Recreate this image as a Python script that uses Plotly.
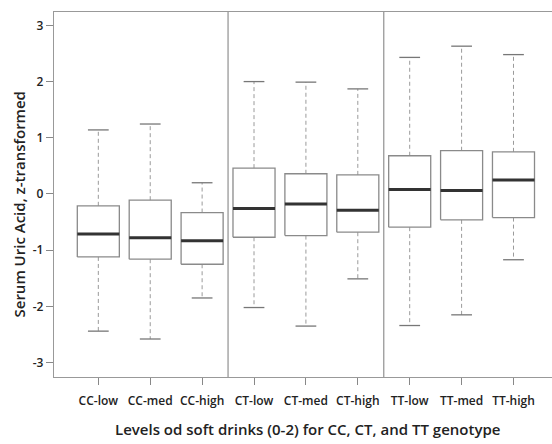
import plotly.graph_objects as go

categories = ["CC-low", "CC-med", "CC-high", "CT-low", "CT-med", "CT-high", "TT-low", "TT-med", "TT-high"]
lower_whisker = [-2.44, -2.58, -1.85, -2.02, -2.35, -1.51, -2.34, -2.15, -1.17]
q1 = [-1.12, -1.16, -1.25, -0.77, -0.74, -0.68, -0.59, -0.46, -0.42]
median = [-0.71, -0.78, -0.83, -0.26, -0.18, -0.29, 0.08, 0.06, 0.25]
q3 = [-0.21, -0.11, -0.33, 0.46, 0.36, 0.34, 0.68, 0.77, 0.75]
upper_whisker = [1.14, 1.245, 0.20, 2.00, 1.99, 1.87, 2.43, 2.63, 2.48]
y_ticks = [-3, -2, -1, 0, 1, 2, 3]
group_separators = [2.5, 5.5]
x_title = "Levels od soft drinks (0-2) for CC, CT, and TT genotype"
y_title = "Serum Uric Acid, z-transformed"

BOX_HALF = 0.405
CAP_HALF = 0.2
FONT = "Open Sans"
W, H = 552, 444
ML, MR, MT, MB = 54, 0, 12, 67

fig = go.Figure()

wx, wy, cx, cy, bx, by, mx, my = [], [], [], [], [], [], [], []
for i in range(len(categories)):
    wx += [i, i, None, i, i, None]
    wy += [q3[i], upper_whisker[i], None, q1[i], lower_whisker[i], None]
    cx += [i - CAP_HALF, i + CAP_HALF, None, i - CAP_HALF, i + CAP_HALF, None]
    cy += [upper_whisker[i], upper_whisker[i], None, lower_whisker[i], lower_whisker[i], None]
    bx += [i - BOX_HALF, i + BOX_HALF, i + BOX_HALF, i - BOX_HALF, i - BOX_HALF, None]
    by += [q1[i], q1[i], q3[i], q3[i], q1[i], None]
    mx += [i - BOX_HALF, i + BOX_HALF, None]
    my += [median[i], median[i], None]

fig.add_trace(go.Scatter(x=wx, y=wy, mode="lines", line=dict(color="#9a9a9a", width=1, dash="4px,3px"),
                         hoverinfo="skip", showlegend=False))
fig.add_trace(go.Scatter(x=cx, y=cy, mode="lines", line=dict(color="#777777", width=1.3),
                         hoverinfo="skip", showlegend=False))
fig.add_trace(go.Scatter(x=bx, y=by, mode="lines", line=dict(color="#8a8a8a", width=1.3),
                         hoverinfo="skip", showlegend=False))
fig.add_trace(go.Scatter(x=mx, y=my, mode="lines", line=dict(color="#333333", width=3),
                         hoverinfo="skip", showlegend=False))

for s in group_separators:
    fig.add_shape(type="line", xref="x", yref="paper", x0=s, x1=s, y0=0, y1=1,
                  line=dict(color="#999999", width=1.3))

pw = W - ML - MR
ph = H - MT - MB
fig.add_annotation(text=x_title, xref="paper", yref="paper",
                   x=(307.5 - ML) / pw, y=-(429 - (H - MB)) / ph,
                   xanchor="center", yanchor="middle", showarrow=False,
                   font=dict(family=FONT, size=15, weight=600, color="#222222"))
fig.add_annotation(text=y_title, xref="paper", yref="paper",
                   x=-(ML - 18) / pw, y=(H - MB - 204.5) / ph, textangle=-90,
                   xanchor="center", yanchor="middle", showarrow=False,
                   font=dict(family=FONT, size=15, weight=600, color="#222222"))

fig.update_layout(
    width=W, height=H,
    margin=dict(l=ML, r=MR, t=MT, b=MB, autoexpand=False),
    paper_bgcolor="white", plot_bgcolor="white",
    font=dict(family=FONT, color="#222222"),
)
fig.update_xaxes(
    range=[-0.854, 8.742], automargin=False,
    tickmode="array", tickvals=list(range(len(categories))), ticktext=categories,
    ticks="outside", ticklen=7, tickcolor="#888888", tickwidth=1,
    ticklabelstandoff=5,
    showline=True, linecolor="#999999", linewidth=1.3, mirror=True,
    showgrid=False, zeroline=False,
    tickfont=dict(family=FONT, size=12, weight=600, color="#222222"),
)
fig.update_yaxes(
    range=[-3.256, 3.238], automargin=False,
    tickmode="array", tickvals=y_ticks, ticktext=[str(v) for v in y_ticks],
    ticks="outside", ticklen=7, tickcolor="#888888", tickwidth=1,
    showline=True, linecolor="#999999", linewidth=1.3, mirror=False,
    showgrid=False, zeroline=False,
    tickfont=dict(family=FONT, size=12, weight=600, color="#222222"),
)

fig.write_html("out.html", config={"displayModeBar": False},
               post_script="document.body.style.margin='0';document.body.style.overflow='hidden';")
